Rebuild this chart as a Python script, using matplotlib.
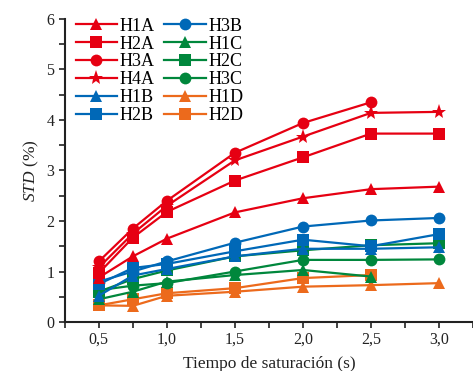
import numpy as np
import matplotlib
matplotlib.use("Agg")
import matplotlib.pyplot as plt
from matplotlib.ticker import MultipleLocator, FuncFormatter

# Saturation time (s) and STD (%) per series
tiempo = [0.5, 0.75, 1.0, 1.5, 2.0, 2.5, 3.0]

h1a = [0.88, 1.30, 1.65, 2.17, 2.45, 2.63, 2.68]
h2a = [0.97, 1.67, 2.18, 2.80, 3.26, 3.73, 3.73]
h3a = [1.20, 1.85, 2.40, 3.35, 3.94, 4.35, np.nan]
h4a = [1.08, 1.75, 2.30, 3.20, 3.67, 4.14, 4.16]
h1b = [0.52, 0.92, 1.05, 1.30, 1.45, 1.45, 1.48]
h2b = [0.75, 1.07, 1.15, 1.40, 1.63, 1.50, 1.74]
h3b = [0.80, 1.00, 1.20, 1.57, 1.89, 2.01, 2.06]
h1c = [0.45, 0.60, 0.80, 0.93, 1.03, 0.90, np.nan]
h2c = [0.60, 0.85, 1.02, 1.30, 1.42, 1.52, 1.56]
h3c = [0.63, 0.72, 0.77, 1.00, 1.23, 1.23, 1.24]
h1d = [0.33, 0.32, 0.52, 0.60, 0.70, 0.73, 0.77]
h2d = [0.33, 0.45, 0.57, 0.67, 0.87, 0.93, np.nan]

labels = ["H1A", "H2A", "H3A", "H4A", "H1B", "H2B",
          "H3B", "H1C", "H2C", "H3C", "H1D", "H2D"]
series = [h1a, h2a, h3a, h4a, h1b, h2b, h3b, h1c, h2c, h3c, h1d, h2d]

RED, BLUE, GREEN, ORANGE = "#e60012", "#0068b7", "#00873c", "#ec6a1c"
colors = [RED, RED, RED, RED, BLUE, BLUE, BLUE, GREEN, GREEN, GREEN,
          ORANGE, ORANGE]
markers = ["^", "s", "o", "*", "^", "s", "o", "^", "s", "o", "^", "s"]

plt.rcParams["font.family"] = ["Liberation Serif", "DejaVu Serif"]
plt.rcParams["mathtext.fontset"] = "custom"
plt.rcParams["mathtext.it"] = "Liberation Serif:italic"
plt.rcParams["mathtext.rm"] = "Liberation Serif"

fig = plt.figure(figsize=(4.73, 3.71), dpi=100)
ax = fig.add_axes([0.137, 0.132, 0.863, 0.817])

# draw in reverse so red sits on top, like the original
for lab, y, c, m in list(zip(labels, series, colors, markers))[::-1]:
    ms = 11 if m == "*" else 8.5
    ax.plot(tiempo, y, color=c, marker=m, markersize=ms, lw=1.6,
            label=lab, markeredgewidth=0)

ax.set_xlim(0.25, 3.25)
ax.set_ylim(0, 6)
ax.xaxis.set_major_locator(MultipleLocator(0.5))
ax.xaxis.set_minor_locator(MultipleLocator(0.25))
ax.yaxis.set_major_locator(MultipleLocator(1))
ax.yaxis.set_minor_locator(MultipleLocator(0.5))
ax.xaxis.set_major_formatter(FuncFormatter(
    lambda v, p: f"{v:.1f}".replace(".", ",")))
ax.tick_params(which="both", direction="out", length=4, width=1.2,
               labelsize=11.5, colors="#222222")
ax.tick_params(axis="x", which="major", pad=3)

for s in ["top", "right"]:
    ax.spines[s].set_visible(False)
for s in ["left", "bottom"]:
    ax.spines[s].set_linewidth(1.5)
    ax.spines[s].set_color("#222222")

ax.set_xlabel("Tiempo de saturación (s)", fontsize=12.5, labelpad=6,
              color="#222222")
ax.set_ylabel(r"$\mathit{STD}$ (%)", fontsize=12.5, labelpad=4,
              color="#222222")

handles, labs = ax.get_legend_handles_labels()
order = [labs.index(l) for l in labels]
ax.legend([handles[i] for i in order], [labs[i] for i in order],
          ncol=2, loc="upper left", bbox_to_anchor=(0.0, 1.04),
          frameon=False, fontsize=13, handlelength=2.3,
          handletextpad=0.15, columnspacing=0.5, labelspacing=0.05,
          borderaxespad=0.2)

fig.savefig("out.png", dpi=100)
